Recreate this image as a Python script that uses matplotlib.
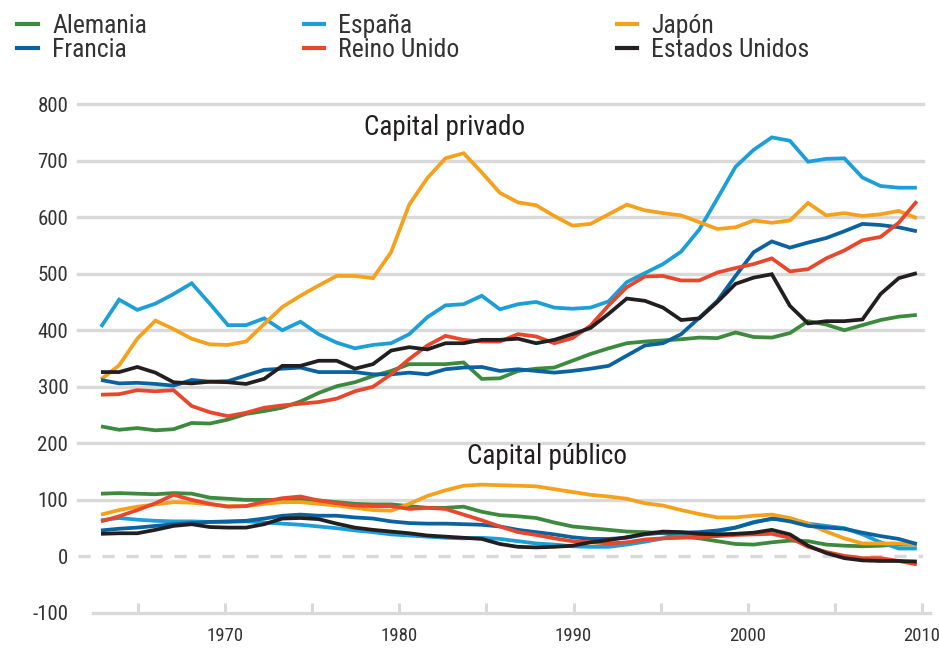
import matplotlib
matplotlib.use("Agg")
import matplotlib.pyplot as plt
from matplotlib import font_manager

# pick a narrow family if one is installed, otherwise Roboto
family = "Roboto"
for name in ["Liberation Sans Narrow", "Roboto Condensed", "DejaVu Sans Condensed"]:
    try:
        font_manager.findfont(font_manager.FontProperties(family=name), fallback_to_default=False)
        family = name
        break
    except ValueError:
        pass
plt.rcParams['font.family'] = [family, 'DejaVu Sans']

# # Data (% of national income), 46 annual points

years = list(range(1970, 2016))

countries = ["Alemania", "Francia", "España", "Reino Unido", "Japón", "Estados Unidos"]
colors = ["#3c8a3e", "#0b62a0", "#1c9fd8", "#e9472b", "#f5a11c", "#231f20"]

alemania_priv = [230, 224, 227, 223, 225, 236, 235, 242, 252, 257, 263, 274, 289, 301, 308, 319,
                 328, 340, 340, 340, 343, 314, 315, 328, 332, 334, 346, 358, 368, 377, 380, 382,
                 384, 387, 386, 396, 388, 387, 395, 416, 410, 400, 409, 418, 424, 427]
francia_priv = [312, 306, 307, 305, 302, 312, 309, 310, 320, 330, 332, 334, 326, 326, 326, 322,
                322, 325, 322, 331, 334, 335, 328, 331, 328, 325, 328, 332, 337, 355, 373, 377,
                393, 422, 452, 496, 538, 557, 546, 555, 563, 575, 588, 586, 582, 575]
espana_priv = [406, 454, 436, 447, 464, 483, 447, 409, 409, 421, 400, 415, 393, 378, 368, 374,
               377, 393, 423, 444, 446, 461, 437, 446, 450, 440, 438, 440, 451, 485, 501, 517,
               539, 578, 633, 689, 719, 741, 735, 698, 703, 704, 670, 655, 652, 652]
reino_priv = [286, 287, 294, 292, 294, 266, 255, 248, 254, 263, 267, 270, 273, 279, 292, 300,
              322, 349, 373, 390, 383, 380, 380, 393, 389, 377, 386, 408, 444, 476, 495, 496,
              488, 488, 502, 510, 517, 527, 504, 508, 527, 541, 559, 565, 590, 628]
japon_priv = [313, 338, 385, 417, 402, 385, 375, 374, 380, 411, 441, 461, 479, 496, 496, 492,
              538, 622, 669, 704, 713, 679, 643, 626, 621, 602, 585, 588, 605, 622, 612, 607,
              603, 591, 579, 582, 594, 590, 594, 625, 603, 607, 602, 605, 611, 598]
eeuu_priv = [326, 326, 335, 325, 308, 306, 309, 308, 305, 314, 337, 337, 346, 346, 332, 340,
             364, 370, 366, 377, 377, 383, 383, 385, 377, 383, 393, 404, 429, 456, 452, 440,
             418, 421, 450, 482, 493, 499, 443, 412, 416, 416, 419, 464, 492, 501]

alemania_pub = [111, 112, 111, 110, 112, 111, 104, 102, 100, 100, 100, 101, 99, 96, 93, 92,
                92, 89, 86, 86, 88, 79, 73, 71, 68, 60, 53, 50, 47, 44, 43, 41,
                36, 32, 27, 22, 21, 25, 28, 27, 21, 19, 18, 19, 21, 21]
francia_pub = [46, 49, 51, 54, 57, 59, 61, 62, 63, 67, 72, 74, 72, 72, 69, 67,
               62, 59, 58, 58, 57, 56, 53, 47, 43, 39, 34, 31, 31, 33, 39, 42,
               42, 43, 46, 51, 60, 67, 62, 54, 51, 49, 42, 36, 31, 22]
espana_pub = [64, 68, 65, 63, 62, 62, 61, 61, 62, 60, 58, 56, 53, 50, 46, 43,
              39, 37, 35, 33, 32, 33, 31, 27, 23, 21, 18, 17, 17, 21, 26, 32,
              36, 39, 44, 51, 61, 66, 67, 58, 54, 50, 39, 25, 14, 14]
reino_pub = [62, 71, 82, 94, 109, 100, 93, 88, 89, 97, 103, 106, 99, 94, 90, 89,
             89, 84, 86, 84, 74, 64, 53, 43, 38, 32, 27, 25, 23, 25, 30, 32,
             33, 34, 36, 38, 39, 40, 33, 17, 8, 1, -3, -3, -8, -14]
japon_pub = [74, 82, 88, 92, 96, 95, 92, 89, 89, 93, 96, 96, 93, 90, 86, 82,
             81, 93, 107, 117, 125, 127, 126, 125, 124, 119, 114, 109, 106, 102, 94, 90,
             82, 75, 69, 69, 72, 74, 68, 58, 44, 32, 23, 23, 23, 21]
eeuu_pub = [40, 41, 41, 47, 54, 57, 52, 51, 51, 57, 67, 68, 66, 58, 51, 47,
            44, 41, 37, 35, 33, 31, 22, 17, 16, 17, 19, 25, 29, 34, 40, 44,
            43, 40, 39, 40, 42, 47, 39, 19, 6, -3, -7, -8, -8, -9]

private = [alemania_priv, francia_priv, espana_priv, reino_priv, japon_priv, eeuu_priv]
public = [alemania_pub, francia_pub, espana_pub, reino_pub, japon_pub, eeuu_pub]

y_ticks = [-100, 0, 100, 200, 300, 400, 500, 600, 700, 800]
y_labels = ["-100", "0", "100", "200", "300", "400", "500", "600", "700", "800"]

# the printed axis labels do not sit on the data years, keep them where the original has them
x_ticks = [1972.04 + 4.805 * k for k in range(10)]
x_labels = ["", "1970", "", "1980", "", "1990", "", "2000", "", "2010"]

# # Figure

fig = plt.figure(figsize=(9.39, 6.49), dpi=100)
ax = fig.add_axes([78 / 939, 1 - 613 / 649, (923 - 78) / 939, (613 - 104) / 649])
ax.set_xlim(1968.73, 2015.34)
ax.set_ylim(-100, 800)

grid_c = "#d9d9da"
text_c = "#333333"
for v in y_ticks[2:]:
    ax.axhline(v, color=grid_c, lw=2.4, zorder=1, clip_on=False)
ax.axhline(0, color=grid_c, lw=2.4, ls=(0, (3.6, 3.6)), zorder=1)

order = [0, 2, 4, 1, 3, 5]
for i in order:
    ax.plot(years, private[i], color=colors[i], lw=2.7, zorder=3,
            solid_joinstyle="miter", solid_capstyle="butt")
    ax.plot(years, public[i], color=colors[i], lw=2.7, zorder=3,
            solid_joinstyle="round", solid_capstyle="butt")

for s in ["top", "right", "left"]:
    ax.spines[s].set_visible(False)
ax.spines["bottom"].set_color(grid_c)
ax.spines["bottom"].set_linewidth(2.4)
ax.spines["bottom"].set_bounds(1969.56, 2015.7)

ax.set_yticks(y_ticks)
ax.set_yticklabels(y_labels)
ax.set_xticks(x_ticks)
ax.set_xticklabels(x_labels)
ax.tick_params(axis="y", length=0, pad=7, labelsize=15, labelcolor=text_c)
ax.tick_params(axis="x", direction="in", length=7, width=2.2, color=grid_c,
               pad=10, labelsize=13.5, labelcolor=text_c)

ax.text(1988.97, 758, "Capital privado", ha="center", va="center",
        fontsize=19.5, color="#231f20")
ax.text(1994.6, 176, "Capital público", ha="center", va="center",
        fontsize=19.5, color="#231f20")

# # Legend

handles = [plt.Line2D([], [], color=c, lw=3) for c in colors]
fig.legend(handles, countries, ncol=3, loc="upper left", bbox_to_anchor=(-0.006, 1.015),
           frameon=False, fontsize=18.5, handlelength=0.8, handletextpad=0.55,
           columnspacing=6.1, labelspacing=0.0, labelcolor=text_c)

fig.savefig("out.png", dpi=100)
